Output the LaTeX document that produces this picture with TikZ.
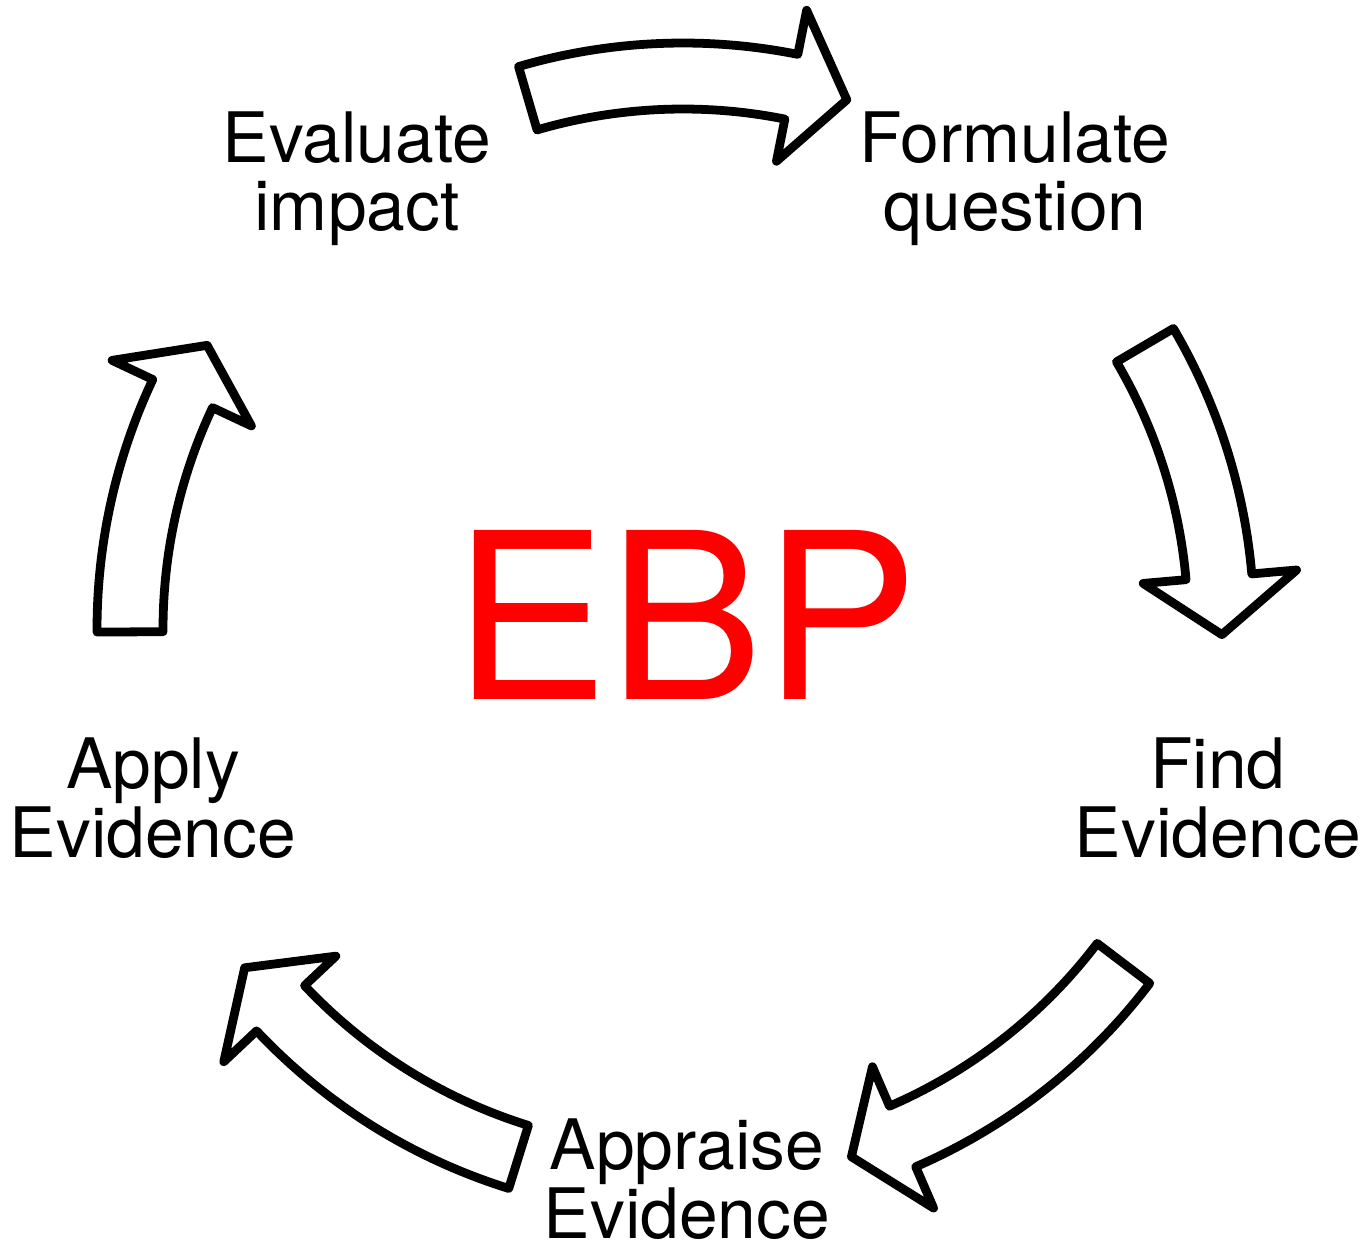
\documentclass[tikz,border=0pt]{standalone}
\usepackage{fontspec}
\setmainfont{TeX Gyre Heros}
\usepackage{tikz}
\usetikzlibrary{positioning}
\definecolor{ebpred}{RGB}{255,0,0}

% radii of the cycle arrows
\def\rIn{5.20}
\def\rOut{5.86}
\def\rHeadIn{4.77}
\def\rHeadOut{6.31}
\def\rTip{5.54}
% #1 centre, #2 tail angle, #3 head base angle, #4 tip angle
\newcommand{\cyclearrow}[4]{
\draw [arrowshape, shift={#1}] (#2:\rOut) arc [start angle=#2, end angle=#3, radius=\rOut]
  -- (#3:\rHeadOut) -- (#4:\rTip) -- (#3:\rHeadIn) -- (#3:\rIn)
  arc [start angle=#3, end angle=#2, radius=\rIn] -- cycle;
}

\begin{document}
\begin{tikzpicture}
\tikzstyle{arrowshape}=[draw=black, fill=white, line width=2.5pt, line join=round]
\tikzstyle{stagetext}=[align=center, anchor=base, inner sep=0pt, font=\fontsize{19.8}{19.4}\selectfont]
\useasboundingbox (0,0) rectangle (13.68,12.52);
% arrows
\cyclearrow{(6.83,6.23)}{106.3}{78.7}{72.8}
\cyclearrow{(6.68,6.27)}{30.4}{5.0}{-1.0}
\cyclearrow{(6.83,6.23)}{-37.2}{-66.6}{-72.3}
\cyclearrow{(6.83,6.23)}{-107.3}{-136.7}{-142.3}
\cyclearrow{(6.83,6.23)}{180.3}{154.8}{149.2}
% stages
\node [stagetext] (evaluate) at (3.57,10.21) {Evaluate\\impact};
\node [stagetext] (formulate) at (10.15,10.21) {Formulate\\question};
\node [stagetext] (find) at (12.18,3.95) {Find\\Evidence};
\node [stagetext] (appraise) at (6.87,0.14) {Appraise\\Evidence};
\node [stagetext] (apply) at (1.53,3.95) {Apply\\Evidence};
\node [anchor=base, inner sep=0pt, text=ebpred, font=\fontsize{66}{66}\selectfont] (ebp) at (6.86,5.52) {EBP};
\end{tikzpicture}
\end{document}
